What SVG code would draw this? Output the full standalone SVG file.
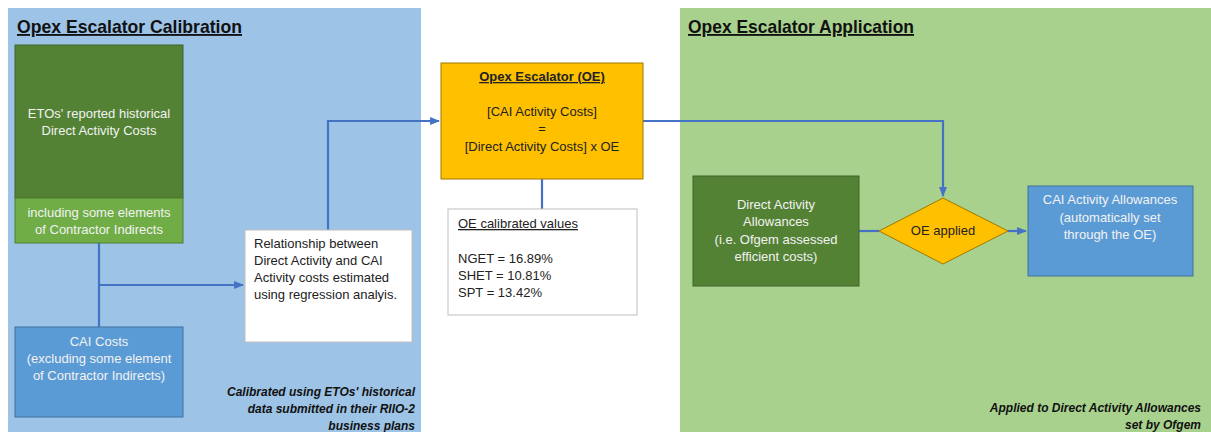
<svg xmlns="http://www.w3.org/2000/svg" width="1211" height="432" viewBox="0 0 1211 432">
<defs>
<marker id="arr" viewBox="0 0 10 10" refX="9" refY="5" markerWidth="4.5" markerHeight="4.5" orient="auto" markerUnits="strokeWidth">
<path d="M0,1 L10,5 L0,9 z" fill="#4472C4"/>
</marker>
<style>
text{font-family:"Liberation Sans",Arial,sans-serif;}
.title{font-size:18.5px;font-weight:bold;fill:#111;text-decoration:underline;}
.w{font-size:13px;fill:#F2F2F2;text-anchor:middle;}
.d{font-size:13px;fill:#222;}
.dc{font-size:13px;fill:#222;text-anchor:middle;}
.note{font-size:12px;font-weight:bold;font-style:italic;fill:#111;text-anchor:end;}
.conn{stroke:#4472C4;stroke-width:2.2;fill:none;}
</style>
</defs>
<rect width="1211" height="432" fill="#FFFFFF"/>
<g id="panel-calibration">
<rect x="8" y="8" width="413" height="424" fill="#9DC3E6"/>
<text class="title" x="17" y="33" textLength="225" lengthAdjust="spacingAndGlyphs">Opex Escalator Calibration</text>
<text class="note" x="415" y="396">Calibrated using ETOs' historical</text>
<text class="note" x="415" y="413">data submitted in their RIIO-2</text>
<text class="note" x="415" y="430">business plans</text>
</g>
<g id="panel-application">
<rect x="680" y="8" width="531" height="424" fill="#A9D18E"/>
<text class="title" x="688" y="33" textLength="226" lengthAdjust="spacingAndGlyphs">Opex Escalator Application</text>
<text class="note" x="1201" y="412">Applied to Direct Activity Allowances</text>
<text class="note" x="1201" y="429">set by Ofgem</text>
</g>
<g id="connectors">
<path class="conn" d="M99,243 V327"/>
<path class="conn" d="M99,285 H243" marker-end="url(#arr)"/>
<path class="conn" d="M328,230 V121 H439" marker-end="url(#arr)"/>
<path class="conn" d="M542,179 V209"/>
<path class="conn" d="M643,121 H943 V196" marker-end="url(#arr)"/>
<path class="conn" d="M859,231 H879"/>
<path class="conn" d="M1008,231 H1026" marker-end="url(#arr)"/>
</g>
<g id="etos-direct">
<rect x="15" y="45" width="168" height="153" fill="#548235" stroke="#3F6328" stroke-width="1"/>
<rect x="15" y="198" width="168" height="45" fill="#70AD47" stroke="#507E32" stroke-width="1"/>
<text class="w" x="99" y="118">ETOs' reported historical</text>
<text class="w" x="99" y="135">Direct Activity Costs</text>
<text class="w" x="99" y="217">including some elements</text>
<text class="w" x="99" y="234">of Contractor Indirects</text>
</g>
<g id="cai-costs">
<rect x="15" y="327" width="168" height="90" fill="#5B9BD5" stroke="#41719C" stroke-width="1"/>
<text class="w" x="99" y="346">CAI Costs</text>
<text class="w" x="99" y="363">(excluding some element</text>
<text class="w" x="99" y="380">of Contractor Indirects)</text>
</g>
<g id="relationship">
<rect x="245" y="230" width="167" height="112" fill="#FFFFFF" stroke="#BFBFBF" stroke-width="1"/>
<text class="d" x="254" y="248">Relationship between</text>
<text class="d" x="254" y="265">Direct Activity and CAI</text>
<text class="d" x="254" y="282">Activity costs estimated</text>
<text class="d" x="254" y="299">using regression analyis.</text>
</g>
<g id="opex-escalator">
<rect x="441" y="63" width="202" height="116" fill="#FFC000" stroke="#A07800" stroke-width="1"/>
<text class="dc" x="542" y="81" font-weight="bold" text-decoration="underline">Opex Escalator (OE)</text>
<text class="dc" x="542" y="116">[CAI Activity Costs]</text>
<text class="dc" x="542" y="133">=</text>
<text class="dc" x="542" y="151">[Direct Activity Costs] x OE</text>
</g>
<g id="oe-values">
<rect x="448" y="209" width="189" height="106" fill="#FFFFFF" stroke="#BFBFBF" stroke-width="1"/>
<text class="d" x="458" y="228" text-decoration="underline">OE calibrated values</text>
<text class="d" x="458" y="263">NGET = 16.89%</text>
<text class="d" x="458" y="280">SHET = 10.81%</text>
<text class="d" x="458" y="297">SPT = 13.42%</text>
</g>
<g id="direct-allowances">
<rect x="693" y="176" width="166" height="110" fill="#548235" stroke="#3F6328" stroke-width="1"/>
<text class="w" x="776" y="209">Direct Activity</text>
<text class="w" x="776" y="226">Allowances</text>
<text class="w" x="776" y="244">(i.e. Ofgem assessed</text>
<text class="w" x="776" y="261">efficient costs)</text>
</g>
<g id="oe-applied">
<polygon points="943,198 1008,231 943,264 879,231" fill="#FFC000" stroke="#A07800" stroke-width="1"/>
<text class="dc" x="943" y="235">OE applied</text>
</g>
<g id="cai-allowances">
<rect x="1028" y="186" width="165" height="90" fill="#5B9BD5" stroke="#41719C" stroke-width="1"/>
<text class="w" x="1110" y="204">CAI Activity Allowances</text>
<text class="w" x="1110" y="222">(automatically set</text>
<text class="w" x="1110" y="239">through the OE)</text>
</g>
</svg>
